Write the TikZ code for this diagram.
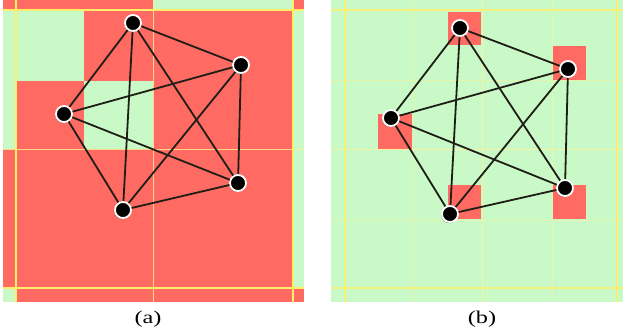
\documentclass[tikz,border=0pt]{standalone}
\usepackage{fontspec}
\setmainfont{Liberation Serif}
\usetikzlibrary{shadows}
\definecolor{cred}{HTML}{FF6A62}
\definecolor{cgreen}{HTML}{C9F9C7}
\definecolor{cyel}{HTML}{FFEE66}
\definecolor{cedge}{HTML}{1E1E16}
\begin{document}
\begin{tikzpicture}[x=1pt,y=-1pt,
  vtx/.style={circle,fill=black,draw=white,line width=1.8pt,minimum size=16pt,inner sep=0pt,
    drop shadow={shadow xshift=-0.8pt,shadow yshift=-1.2pt,fill=black!55,opacity=0.7}},
  edge/.style={draw=cedge,line width=1.8pt},
  strongline/.style={draw=cyel,line width=1.6pt},
  faintline/.style={draw=cyel!70!white,line width=0.9pt,opacity=0.8},
  caption/.style={font=\fontsize{18}{21}\selectfont,inner sep=0pt}]
\useasboundingbox (0,0) rectangle (628,334);
\fill[white] (0,0) rectangle (628,334);
% ---------- panel (a) ----------
\fill[cred] (3,0) rectangle (304,302);
\fill[cgreen] (153,0) rectangle (293,10);
\fill[cgreen] (3,10) rectangle (84,81);
\fill[cgreen] (3,81) rectangle (16,149);
\fill[cgreen] (84,81) rectangle (153,149);
\fill[cgreen] (293,10) rectangle (304,288);
\fill[cgreen] (3,288) rectangle (16,302);
\draw[faintline] (153,0) -- (153,302);
\draw[faintline] (3,149) -- (304,149);
\draw[strongline] (16,0) -- (16,302);
\draw[strongline] (293,0) -- (293,302);
\draw[strongline] (3,10) -- (304,10);
\draw[strongline] (3,288) -- (304,288);
% ---------- panel (b) ----------
\fill[cgreen] (331,0) rectangle (623,302);
\draw[faintline,opacity=0.5] (413,0) -- (413,302);
\draw[faintline,opacity=0.5] (552,0) -- (552,302);
\draw[faintline,opacity=0.5] (331,80) -- (623,80);
\draw[faintline,opacity=0.5] (331,220) -- (623,220);
\draw[faintline] (482,0) -- (482,302);
\draw[faintline] (331,149) -- (623,149);
\draw[strongline,opacity=0.8] (345,0) -- (345,302);
\draw[strongline,opacity=0.8] (617,0) -- (617,302);
\draw[strongline,opacity=0.8] (331,10) -- (623,10);
\draw[strongline,opacity=0.8] (331,288) -- (623,288);
\fill[cred] (448,12) rectangle (481,45);
\fill[cred] (553,46) rectangle (586,80);
\fill[cred] (378,114) rectangle (412,149);
\fill[cred] (448,185) rectangle (481,219);
\fill[cred] (553,185) rectangle (586,219);
% ---------- graph (a) ----------
\node[vtx] (a1) at (133,23) {};
\node[vtx] (a2) at (241,65) {};
\node[vtx] (a3) at (64,114) {};
\node[vtx] (a4) at (238,183) {};
\node[vtx] (a5) at (123,210) {};
\foreach \u/\v in {a1/a2,a1/a3,a1/a4,a1/a5,a2/a3,a2/a4,a2/a5,a3/a4,a3/a5,a4/a5}
  \draw[edge] (\u) -- (\v);
% ---------- graph (b) ----------
\node[vtx] (b1) at (460,28) {};
\node[vtx] (b2) at (568,69) {};
\node[vtx] (b3) at (391,118) {};
\node[vtx] (b4) at (565,188) {};
\node[vtx] (b5) at (450,214) {};
\foreach \u/\v in {b1/b2,b1/b3,b1/b4,b1/b5,b2/b3,b2/b4,b2/b5,b3/b4,b3/b5,b4/b5}
  \draw[edge] (\u) -- (\v);
% ---------- captions ----------
\node[caption] (capa) at (148,319) {\scalebox{1.35}[1]{(a)}};
\node[caption] (capb) at (482,319) {\scalebox{1.35}[1]{(b)}};
\end{tikzpicture}
\end{document}
